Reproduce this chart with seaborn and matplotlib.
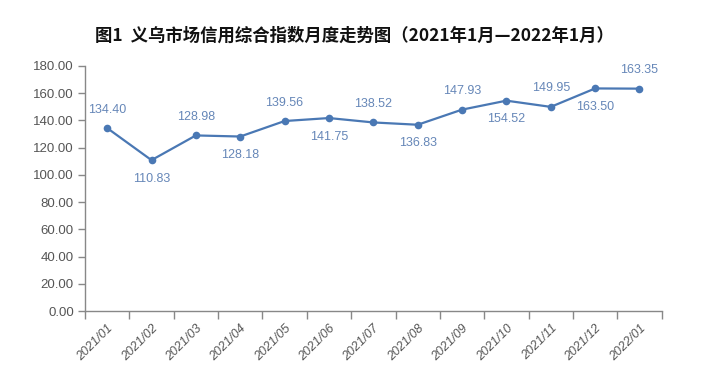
import matplotlib
matplotlib.use("Agg")
import matplotlib.pyplot as plt
import seaborn as sns
import pandas as pd
from matplotlib.ticker import FixedLocator

months = ["2021/01", "2021/02", "2021/03", "2021/04", "2021/05", "2021/06", "2021/07",
          "2021/08", "2021/09", "2021/10", "2021/11", "2021/12", "2022/01"]
values = [134.40, 110.83, 128.98, 128.18, 139.56, 141.75, 138.52,
          136.83, 147.93, 154.52, 149.95, 163.50, 163.35]
yticks = [0, 20, 40, 60, 80, 100, 120, 140, 160, 180]
title = "图1  义乌市场信用综合指数月度走势图（2021年1月—2022年1月）"

sns.set_theme(style="white")
plt.rcParams['font.family'] = ['Noto Sans CJK SC', 'DejaVu Sans']
num_font = ["Liberation Sans", "DejaVu Sans"]

df = pd.DataFrame({"pos": range(len(months)), "value": values})

fig = plt.figure(figsize=(7.2, 3.77), dpi=100)
ax = fig.add_axes([0.118, 0.175, 0.801, 0.65])

line_color = "#4a78b4"
label_color = "#6687b8"
sns.lineplot(data=df, x="pos", y="value", ax=ax, color=line_color, linewidth=1.6,
             marker="o", markersize=5.5, markeredgewidth=0)

for i, v in enumerate(values):
    if i % 2 == 0:
        ax.annotate(f"{v:.2f}", (i, v), xytext=(0, 9), textcoords="offset points",
                    ha="center", va="bottom", fontsize=9, color=label_color,
                    family=num_font)
    else:
        ax.annotate(f"{v:.2f}", (i, v), xytext=(0, -9), textcoords="offset points",
                    ha="center", va="top", fontsize=9, color=label_color,
                    family=num_font)

ax.set_xlim(-0.5, len(months) - 0.5)
ax.set_ylim(0, 180)
ax.set_yticks(yticks)
ax.set_yticklabels([f"{t:.2f}" for t in yticks], fontsize=9.5, color="#555555",
                   family=num_font)
ax.set_xticks(range(len(months)))
ax.set_xticklabels(months, rotation=45, ha="right", rotation_mode="anchor",
                   fontsize=9, color="#555555", style="italic", family=num_font)
ax.xaxis.set_minor_locator(FixedLocator([i - 0.5 for i in range(len(months) + 1)]))
ax.tick_params(axis="x", which="major", length=0, pad=8)
ax.tick_params(axis="x", which="minor", length=6, width=1, color="#888888", bottom=True)
ax.tick_params(axis="y", which="major", length=5, width=1, color="#888888", left=True, pad=3)

for s in ["top", "right"]:
    ax.spines[s].set_visible(False)
for s in ["left", "bottom"]:
    ax.spines[s].set_color("#888888")
    ax.spines[s].set_linewidth(1)

ax.set_xlabel("")
ax.set_ylabel("")

fig.text(0.492, 0.905, title, ha="center", va="center", fontsize=12.5,
         fontweight="bold", color="#111111")

fig.savefig("out.png", dpi=100)
